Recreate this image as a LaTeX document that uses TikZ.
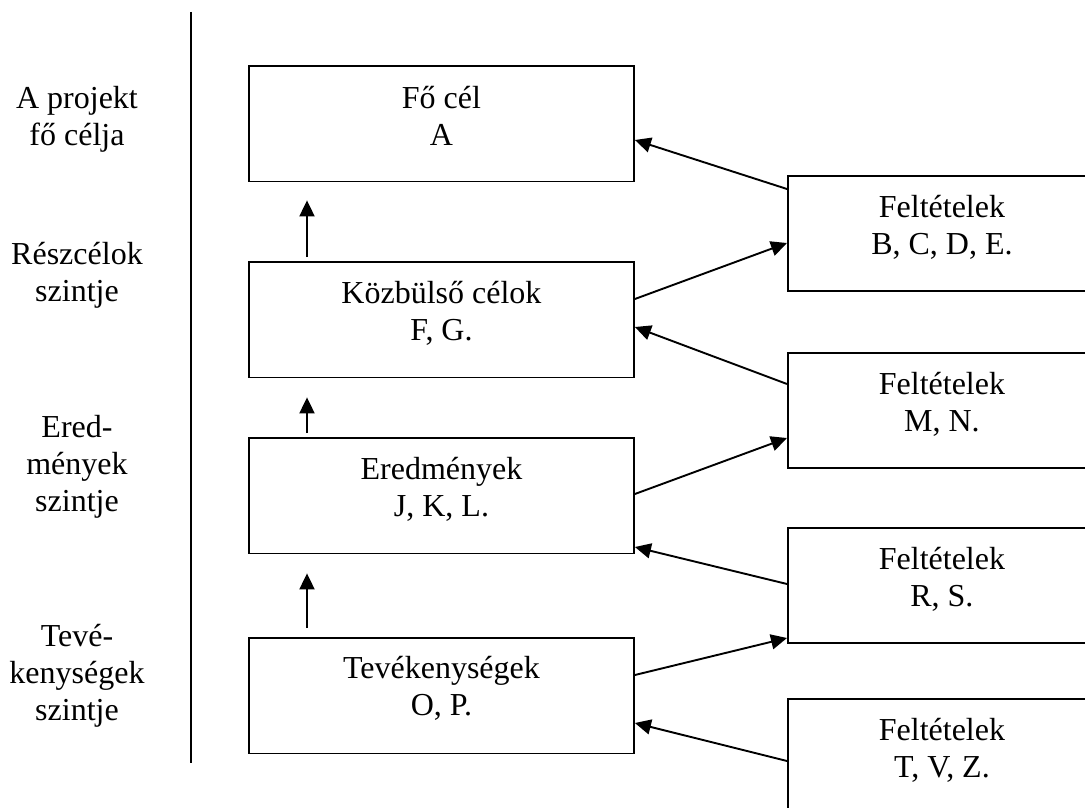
\documentclass[tikz,border=0pt]{standalone}
\usepackage{fontspec}
\setmainfont{Liberation Serif}
\usetikzlibrary{arrows.meta}
\begin{document}
\begin{tikzpicture}[x=1pt,y=-1pt,
  lw/.style={line width=1.9pt},
  leftbox/.style={draw, lw, minimum width=385pt, minimum height=115.5pt, anchor=north west, inner sep=0pt},
  rightbox/.style={draw, lw, minimum width=308pt, minimum height=115pt, anchor=north west, inner sep=0pt},
  txt/.style={font=\fontsize{32}{37}\selectfont, align=center, anchor=north, inner sep=0pt, execute at begin node=\strut},
  arr/.style={lw, -{Triangle[length=16pt,width=15pt]}}
]
\clip (0,0) rectangle (1085,808);
\fill[white] (0,0) rectangle (1085,808);

% vertical divider
\coordinate (vtop) at (191,12);
\coordinate (vbot) at (191,763);
\draw[lw] (vtop) -- (vbot);

% level labels
\node[txt] (l1) at (77,86) {A projekt\\fő célja};
\node[txt] (l2) at (77,242) {Részcélok\\szintje};
\node[txt] (l3) at (77,415) {Ered-\\mények\\szintje};
\node[txt] (l4) at (77,624) {Tevé-\\kenységek\\szintje};

% left boxes
\node[leftbox] (b1) at (248,65) {};
\node[leftbox] (b2) at (248,261) {};
\node[leftbox] (b3) at (248,437) {};
\node[leftbox] (b4) at (248,637) {};
\node[txt] (tb1) at ([yshift=-21pt]b1.north) {Fő cél\\A};
\node[txt] (tb2) at ([yshift=-20.5pt]b2.north) {Közbülső célok\\F, G.};
\node[txt] (tb3) at ([yshift=-20.5pt]b3.north) {Eredmények\\J, K, L.};
\node[txt] (tb4) at ([yshift=-19.5pt]b4.north) {Tevékenységek\\O, P.};

% right boxes
\node[rightbox] (r1) at (787,175) {};
\node[rightbox] (r2) at (787,352) {};
\node[rightbox] (r3) at (787,527) {};
\node[rightbox] (r4) at (787,698) {};
\node[txt] (tr1) at ([yshift=-20.5pt]r1.north) {Feltételek\\B, C, D, E.};
\node[txt] (tr2) at ([yshift=-20.5pt]r2.north) {Feltételek\\M, N.};
\node[txt] (tr3) at ([yshift=-20.5pt]r3.north) {Feltételek\\R, S.};
\node[txt] (tr4) at ([yshift=-20.5pt]r4.north) {Feltételek\\T, V, Z.};

% vertical arrows
\draw[arr] ([xshift=59pt,yshift=4pt]b2.north west) -- ([xshift=59pt,yshift=-18pt]b1.south west);
\draw[arr] ([xshift=59pt,yshift=4pt]b3.north west) -- ([xshift=59pt,yshift=-19pt]b2.south west);
\draw[arr] ([xshift=59pt,yshift=9pt]b4.north west) -- ([xshift=59pt,yshift=-19pt]b3.south west);

% diagonal arrows
\draw[arr] ([yshift=-14pt]r1.north west) -- ([yshift=-75pt]b1.north east);
\draw[arr] ([yshift=-38pt]b2.north east) -- ([yshift=-68pt]r1.north west);
\draw[arr] ([yshift=-32pt]r2.north west) -- ([yshift=-66pt]b2.north east);
\draw[arr] ([yshift=-57pt]b3.north east) -- ([yshift=-86pt]r2.north west);
\draw[arr] ([yshift=-57pt]r3.north west) -- ([yshift=-110pt]b3.north east);
\draw[arr] ([yshift=-38pt]b4.north east) -- ([yshift=-111pt]r3.north west);
\draw[arr] ([yshift=-63pt]r4.north west) -- ([yshift=-86pt]b4.north east);
\end{tikzpicture}
\end{document}
